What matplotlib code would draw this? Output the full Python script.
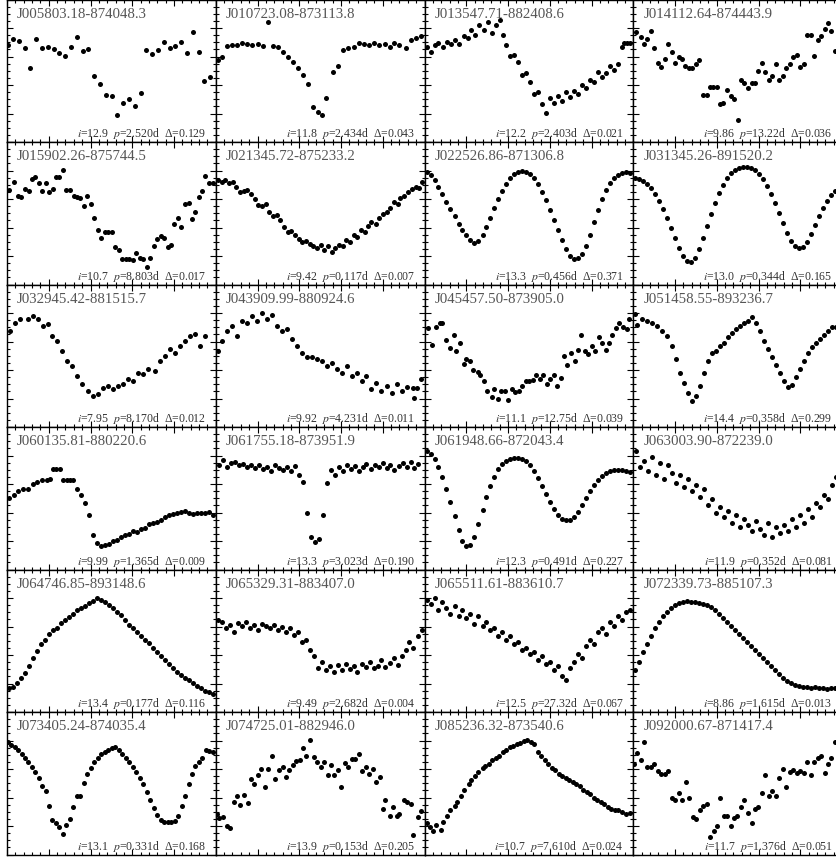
import numpy as np
import matplotlib
matplotlib.use("Agg")
import matplotlib.pyplot as plt
from matplotlib.ticker import MultipleLocator

plt.rcParams["font.family"] = ["Liberation Serif", "DejaVu Serif"]
plt.rcParams["mathtext.fontset"] = "stix"

# star ids, mean i mag, period (d) and amplitude, row by row
names = ["J005803.18-874048.3", "J010723.08-873113.8", "J013547.71-882408.6", "J014112.64-874443.9",
         "J015902.26-875744.5", "J021345.72-875233.2", "J022526.86-871306.8", "J031345.26-891520.2",
         "J032945.42-881515.7", "J043909.99-880924.6", "J045457.50-873905.0", "J051458.55-893236.7",
         "J060135.81-880220.6", "J061755.18-873951.9", "J061948.66-872043.4", "J063003.90-872239.0",
         "J064746.85-893148.6", "J065329.31-883407.0", "J065511.61-883610.7", "J072339.73-885107.3",
         "J073405.24-874035.4", "J074725.01-882946.0", "J085236.32-873540.6", "J092000.67-871417.4"]
imag = ["12.9", "11.8", "12.2", "9.86", "10.7", "9.42", "13.3", "13.0", "7.95", "9.92", "11.1", "14.4",
        "9.99", "13.3", "12.3", "11.9", "13.4", "9.49", "12.5", "8.86", "13.1", "13.9", "10.7", "11.7"]
period = ["2.520", "2.434", "2.403", "13.22", "8.803", "0.117", "0.456", "0.344", "8.170", "4.231", "12.75", "0.358",
          "1.365", "3.023", "0.491", "0.352", "0.177", "2.682", "27.32", "1.615", "0.331", "0.153", "7.610", "1.376"]
delta = ["0.129", "0.043", "0.021", "0.036", "0.017", "0.007", "0.371", "0.165", "0.012", "0.011", "0.039", "0.299",
         "0.009", "0.190", "0.227", "0.081", "0.116", "0.004", "0.067", "0.013", "0.168", "0.205", "0.024", "0.051"]

# phase-folded light curves (phase, normalised magnitude; larger = fainter)
ph_00 = [.005,.029,.057,.086,.110,.139,.167,.196,.225,.249,.278,.306,.335,.364,.388,.416,.445,.474,.502,.526,.555,.584,.612,.641,.665,.694,.722,.751,.780,.804,.833,.861,.890,.919,.943,.971]
mg_00 = [.317,.275,.289,.338,.479,.275,.338,.331,.345,.373,.394,.331,.261,.359,.345,.535,.592,.669,.676,.810,.725,.697,.746,.655,.352,.380,.352,.296,.338,.324,.296,.373,.225,.366,.570,.542]

ph_01 = [.010,.029,.053,.077,.100,.124,.148,.172,.201,.225,.249,.273,.297,.321,.344,.368,.392,.416,.440,.464,.488,.507,.526,.560,.584,.608,.632,.660,.684,.708,.732,.756,.780,.809,.833,.856,.880,.909,.933,.957,.981]
mg_01 = [.423,.401,.324,.317,.317,.303,.310,.317,.310,.324,.155,.324,.331,.366,.401,.437,.479,.528,.592,.754,.789,.810,.690,.507,.465,.352,.338,.331,.303,.310,.317,.303,.317,.310,.331,.303,.317,.338,.282,.268,.254]

ph_02 = [.010,.029,.048,.067,.091,.110,.129,.148,.167,.187,.206,.225,.244,.263,.287,.306,.325,.344,.364,.378,.392,.411,.431,.450,.469,.488,.507,.526,.545,.565,.584,.603,.622,.641,.660,.679,.699,.718,.737,.756,.775,.794,.813,.833,.852,.871,.890,.909,.928,.947,.957,.971,.986]
mg_02 = [.331,.366,.317,.303,.331,.296,.310,.282,.310,.254,.268,.211,.246,.176,.211,.155,.232,.176,.141,.246,.317,.394,.387,.437,.528,.514,.577,.662,.648,.732,.796,.690,.725,.676,.711,.648,.683,.641,.662,.599,.620,.563,.577,.507,.542,.514,.465,.493,.451,.331,.303,.303,.303]

ph_03 = [.014,.038,.053,.067,.086,.100,.120,.134,.153,.167,.187,.201,.220,.234,.249,.268,.282,.301,.316,.335,.354,.368,.383,.402,.416,.431,.450,.469,.483,.502,.517,.531,.550,.569,.584,.598,.617,.632,.651,.665,.684,.699,.718,.732,.751,.766,.785,.799,.818,.833,.852,.866,.885,.900,.919,.933,.947,.967]
mg_03 = [.225,.261,.310,.275,.218,.338,.444,.472,.415,.310,.366,.444,.401,.415,.465,.479,.479,.451,.423,.669,.669,.613,.613,.613,.732,.725,.634,.676,.697,.845,.563,.585,.620,.585,.585,.500,.444,.507,.563,.535,.451,.563,.535,.479,.451,.401,.387,.472,.451,.246,.246,.394,.282,.254,.204,.162,.218,.359]

ph_10 = [.010,.033,.053,.067,.086,.105,.120,.134,.153,.167,.187,.201,.220,.234,.249,.268,.282,.301,.321,.335,.349,.368,.383,.402,.416,.435,.450,.469,.483,.502,.517,.536,.550,.569,.584,.603,.617,.636,.651,.670,.684,.703,.718,.737,.751,.770,.785,.799,.818,.833,.852,.871,.885,.900,.919,.933,.947,.967,.986]
mg_10 = [.338,.282,.380,.387,.331,.345,.261,.246,.289,.345,.289,.352,.331,.246,.246,.197,.338,.338,.380,.387,.394,.451,.380,.437,.535,.620,.676,.634,.634,.634,.739,.761,.824,.824,.824,.831,.782,.817,.824,.880,.817,.732,.683,.662,.676,.739,.725,.577,.535,.599,.437,.430,.542,.493,.387,.345,.239,.289,.289]

ph_11 = [.010,.029,.043,.062,.081,.096,.115,.134,.148,.167,.187,.201,.220,.239,.254,.273,.292,.306,.325,.344,.359,.378,.397,.411,.431,.450,.464,.483,.502,.517,.536,.555,.569,.589,.608,.622,.641,.660,.675,.694,.713,.727,.746,.766,.780,.799,.818,.833,.852,.871,.885,.904,.923,.938,.957,.976,.990]
mg_11 = [.268,.282,.268,.289,.282,.317,.352,.345,.338,.366,.401,.444,.451,.437,.493,.521,.514,.549,.599,.634,.627,.655,.683,.704,.697,.718,.732,.746,.725,.761,.732,.775,.746,.725,.732,.690,.704,.655,.669,.620,.634,.592,.563,.577,.535,.507,.493,.465,.423,.437,.394,.380,.352,.331,.317,.324,.282]

ph_12 = [.010,.029,.048,.067,.086,.105,.124,.144,.163,.182,.201,.220,.239,.258,.278,.297,.316,.335,.354,.373,.392,.411,.431,.450,.469,.488,.507,.526,.545,.565,.584,.603,.622,.641,.660,.679,.699,.718,.737,.756,.775,.794,.813,.833,.852,.871,.890,.909,.928,.947,.967,.986]
mg_12 = [.211,.232,.268,.317,.366,.423,.472,.521,.577,.620,.655,.690,.711,.697,.655,.599,.535,.465,.401,.345,.296,.254,.225,.211,.204,.211,.225,.254,.296,.352,.408,.479,.549,.620,.690,.754,.803,.824,.817,.789,.732,.655,.563,.479,.401,.338,.289,.254,.232,.218,.211,.218]

ph_13 = [.010,.029,.048,.067,.086,.105,.124,.144,.163,.182,.201,.220,.239,.258,.278,.297,.316,.335,.354,.373,.392,.411,.431,.450,.469,.488,.507,.526,.545,.565,.584,.603,.622,.641,.660,.679,.699,.718,.737,.756,.775,.794,.813,.833,.852,.871,.890,.909,.928,.947,.967,.986]
mg_13 = [.254,.261,.275,.296,.324,.366,.415,.472,.535,.606,.676,.746,.803,.838,.845,.817,.754,.676,.592,.507,.430,.359,.303,.254,.218,.197,.183,.176,.176,.183,.197,.225,.261,.310,.366,.430,.500,.570,.641,.697,.732,.746,.739,.704,.648,.585,.521,.465,.415,.373,.345,.324]

ph_20 = [.014,.038,.062,.100,.124,.148,.172,.196,.215,.239,.263,.287,.311,.335,.359,.388,.411,.435,.459,.483,.507,.531,.555,.579,.603,.627,.651,.675,.708,.732,.756,.780,.804,.828,.852,.876,.900,.923,.947]
mg_20 = [.324,.268,.239,.239,.218,.239,.289,.275,.359,.394,.465,.535,.570,.641,.697,.746,.782,.768,.725,.711,.732,.711,.697,.662,.676,.620,.627,.592,.606,.535,.500,.451,.479,.430,.394,.359,.345,.430,.359]

ph_21 = [.010,.029,.053,.077,.100,.124,.148,.172,.196,.220,.244,.268,.292,.316,.340,.364,.388,.411,.435,.459,.483,.507,.531,.555,.579,.603,.627,.651,.675,.699,.722,.746,.770,.794,.818,.842,.866,.890,.914,.943,.952,.962,.981]
mg_21 = [.465,.394,.324,.289,.359,.254,.268,.218,.254,.197,.239,.211,.289,.324,.310,.380,.430,.479,.507,.507,.521,.535,.570,.549,.592,.620,.570,.641,.620,.676,.641,.732,.690,.746,.711,.761,.697,.746,.718,.725,.796,.725,.662]

ph_22 = [.019,.038,.053,.072,.086,.105,.120,.139,.153,.172,.187,.201,.220,.234,.254,.268,.287,.301,.321,.335,.354,.368,.388,.402,.421,.435,.455,.469,.488,.502,.522,.536,.555,.569,.589,.603,.622,.636,.656,.670,.684,.703,.722,.737,.751,.770,.785,.804,.818,.837,.852,.871,.885,.900,.919,.933,.952,.971,.981]
mg_22 = [.303,.423,.296,.268,.268,.387,.444,.352,.465,.408,.556,.521,.535,.599,.613,.634,.676,.746,.789,.732,.803,.746,.746,.810,.732,.754,.746,.711,.676,.676,.669,.634,.662,.634,.697,.662,.634,.711,.655,.500,.563,.479,.535,.458,.352,.465,.486,.430,.465,.366,.408,.458,.408,.352,.303,.268,.296,.310,.239]

ph_23 = [.010,.019,.043,.067,.091,.115,.139,.163,.187,.206,.225,.244,.263,.282,.301,.321,.340,.359,.378,.397,.416,.435,.455,.474,.493,.512,.531,.550,.569,.589,.608,.627,.646,.665,.684,.703,.722,.742,.761,.780,.799,.818,.837,.856,.876,.895,.914,.933,.952,.971]
mg_23 = [.204,.282,.239,.254,.268,.289,.324,.359,.430,.521,.620,.690,.761,.817,.782,.711,.620,.535,.479,.465,.430,.408,.366,.338,.310,.289,.268,.254,.225,.268,.324,.394,.451,.507,.563,.620,.676,.718,.704,.648,.592,.535,.479,.437,.408,.380,.352,.324,.296,.296]

ph_30 = [.010,.033,.053,.077,.100,.124,.144,.167,.191,.206,.220,.234,.254,.268,.287,.301,.316,.335,.354,.373,.392,.411,.431,.450,.469,.488,.507,.526,.545,.565,.584,.603,.622,.641,.660,.679,.699,.718,.737,.756,.775,.794,.813,.833,.852,.871,.890,.909,.928,.947,.967,.986]
mg_30 = [.500,.479,.451,.437,.437,.401,.387,.373,.373,.366,.296,.296,.296,.373,.373,.373,.373,.437,.479,.535,.620,.761,.817,.838,.831,.824,.803,.796,.775,.761,.754,.732,.739,.718,.711,.683,.676,.669,.655,.634,.620,.613,.606,.599,.592,.606,.613,.606,.606,.606,.599,.620]

ph_31 = [.014,.033,.053,.072,.091,.110,.129,.148,.167,.187,.206,.225,.244,.263,.282,.301,.321,.340,.359,.378,.397,.416,.435,.455,.474,.493,.512,.531,.550,.569,.589,.608,.627,.646,.665,.684,.703,.722,.742,.761,.780,.799,.818,.837,.856,.876,.895,.914,.933,.952,.971]
mg_31 = [.268,.232,.282,.254,.246,.268,.261,.282,.268,.289,.268,.296,.282,.310,.268,.289,.303,.282,.310,.275,.338,.387,.606,.775,.810,.789,.620,.394,.303,.338,.282,.310,.268,.296,.275,.310,.282,.261,.296,.268,.282,.254,.289,.268,.303,.275,.254,.282,.246,.289,.261]

ph_32 = [.010,.029,.048,.067,.086,.105,.124,.144,.163,.182,.201,.220,.239,.258,.278,.297,.316,.335,.354,.373,.392,.411,.431,.450,.469,.488,.507,.526,.545,.565,.584,.603,.622,.641,.660,.679,.699,.718,.737,.756,.775,.794,.813,.833,.852,.871,.890,.909,.928,.947,.967,.986]
mg_32 = [.169,.190,.225,.282,.352,.437,.528,.627,.725,.803,.838,.831,.775,.683,.585,.493,.415,.352,.296,.261,.239,.225,.218,.218,.225,.239,.268,.310,.359,.415,.472,.528,.577,.620,.648,.655,.655,.634,.599,.549,.500,.451,.408,.373,.345,.324,.310,.303,.303,.303,.310,.317]

ph_33 = [.014,.033,.053,.072,.091,.110,.129,.148,.167,.187,.206,.225,.244,.263,.282,.301,.321,.340,.359,.378,.397,.416,.435,.455,.474,.493,.512,.531,.550,.569,.589,.608,.627,.646,.665,.684,.703,.722,.742,.761,.780,.799,.818,.837,.856,.876,.895,.914,.933,.952,.971]
mg_33 = [.169,.282,.239,.310,.211,.338,.254,.366,.268,.324,.394,.338,.423,.366,.451,.408,.493,.437,.549,.507,.606,.563,.634,.592,.676,.620,.704,.648,.690,.732,.662,.718,.761,.676,.775,.704,.746,.690,.732,.648,.704,.620,.676,.577,.634,.535,.563,.479,.507,.408,.352]

ph_40 = [.010,.029,.048,.067,.086,.105,.124,.144,.163,.182,.201,.220,.239,.258,.278,.297,.316,.335,.354,.373,.392,.411,.431,.450,.469,.488,.507,.526,.545,.565,.584,.603,.622,.641,.660,.679,.699,.718,.737,.756,.775,.794,.813,.833,.852,.871,.890,.909,.928,.947,.967,.986]
mg_40 = [.831,.824,.796,.761,.725,.676,.620,.570,.521,.493,.451,.423,.408,.373,.352,.331,.310,.282,.268,.254,.232,.218,.197,.211,.225,.246,.268,.296,.317,.352,.387,.408,.437,.465,.493,.514,.549,.577,.606,.634,.662,.690,.718,.739,.761,.775,.796,.817,.831,.852,.859,.873]

ph_41 = [.010,.029,.048,.067,.086,.105,.124,.144,.163,.182,.201,.220,.239,.258,.278,.297,.316,.335,.354,.373,.392,.411,.431,.450,.469,.488,.507,.526,.545,.565,.584,.603,.622,.641,.660,.679,.699,.718,.737,.756,.775,.794,.813,.833,.852,.871,.890,.909,.928,.947,.967,.986]
mg_41 = [.352,.366,.408,.387,.437,.373,.394,.366,.408,.387,.423,.380,.394,.408,.387,.423,.401,.437,.408,.458,.437,.507,.493,.563,.606,.690,.648,.704,.676,.718,.669,.704,.662,.697,.676,.718,.662,.683,.648,.690,.676,.634,.683,.655,.620,.669,.606,.563,.507,.549,.465,.423]

ph_42 = [.010,.029,.048,.067,.086,.105,.124,.144,.163,.182,.201,.220,.239,.258,.278,.297,.316,.335,.354,.373,.392,.411,.431,.450,.469,.488,.507,.526,.545,.565,.584,.603,.622,.641,.660,.679,.699,.718,.737,.756,.775,.794,.813,.833,.852,.871,.890,.909,.928,.947,.967,.986]
mg_42 = [.211,.239,.197,.282,.225,.268,.310,.254,.324,.282,.338,.310,.380,.324,.394,.366,.423,.408,.465,.437,.493,.465,.521,.507,.563,.549,.592,.577,.634,.606,.662,.648,.704,.676,.746,.775,.690,.648,.592,.620,.535,.493,.521,.437,.408,.451,.366,.394,.324,.352,.296,.282]

ph_43 = [.010,.029,.048,.067,.086,.105,.124,.144,.163,.182,.201,.220,.239,.258,.278,.297,.316,.335,.354,.373,.392,.411,.431,.450,.469,.488,.507,.526,.545,.565,.584,.603,.622,.641,.660,.679,.699,.718,.737,.756,.775,.794,.813,.833,.852,.871,.890,.909,.928,.947,.967]
mg_43 = [.704,.648,.577,.521,.465,.408,.366,.324,.296,.268,.246,.232,.225,.218,.225,.225,.232,.239,.246,.261,.282,.310,.338,.366,.394,.423,.451,.479,.507,.535,.563,.592,.620,.648,.676,.704,.732,.761,.782,.796,.810,.817,.824,.824,.831,.824,.831,.831,.838,.831,.831]

ph_50 = [.005,.019,.038,.053,.072,.086,.100,.120,.134,.153,.167,.187,.201,.215,.234,.249,.268,.282,.301,.316,.335,.349,.368,.383,.402,.416,.435,.450,.469,.483,.502,.517,.536,.550,.569,.584,.603,.617,.636,.651,.670,.684,.703,.718,.737,.751,.770,.785,.804,.818,.837,.852,.871,.885,.900,.919,.933,.952,.967,.986]
mg_50 = [.211,.232,.246,.268,.296,.324,.352,.387,.423,.465,.521,.556,.662,.761,.782,.810,.859,.796,.754,.669,.592,.592,.500,.437,.394,.352,.324,.296,.282,.268,.254,.246,.268,.296,.324,.352,.387,.423,.465,.507,.563,.620,.676,.725,.761,.775,.775,.775,.768,.732,.662,.592,.507,.437,.380,.352,.324,.268,.275,.282]

ph_51 = [.005,.014,.033,.053,.067,.086,.100,.115,.134,.153,.167,.182,.201,.215,.234,.249,.268,.282,.301,.321,.335,.349,.368,.383,.402,.416,.431,.450,.469,.483,.502,.517,.536,.550,.565,.584,.598,.617,.632,.651,.665,.684,.699,.718,.732,.751,.766,.785,.799,.813,.833,.847,.866,.880,.900,.914,.933,.947,.967,.981]
mg_51 = [.718,.746,.739,.803,.817,.634,.592,.655,.585,.641,.472,.507,.444,.401,.528,.401,.310,.472,.408,.387,.458,.408,.373,.345,.338,.254,.310,.197,.317,.352,.387,.352,.444,.373,.444,.408,.528,.359,.387,.331,.331,.296,.415,.387,.437,.401,.493,.458,.683,.620,.732,.669,.732,.718,.620,.634,.648,.866,.739,.697]

ph_52 = [.010,.024,.043,.057,.077,.091,.110,.124,.144,.158,.177,.191,.211,.225,.244,.258,.278,.292,.311,.325,.344,.359,.378,.392,.411,.426,.445,.459,.478,.493,.512,.526,.545,.560,.579,.593,.612,.627,.646,.660,.679,.694,.713,.727,.746,.761,.780,.794,.813,.828,.847,.861,.880,.895,.914,.928,.947,.967,.986]
mg_52 = [.782,.810,.838,.796,.831,.775,.732,.690,.662,.634,.592,.549,.507,.479,.451,.423,.394,.380,.366,.338,.324,.310,.282,.268,.246,.239,.225,.218,.204,.197,.211,.225,.282,.310,.338,.366,.394,.408,.437,.451,.465,.479,.493,.507,.521,.549,.563,.577,.606,.620,.634,.648,.669,.683,.690,.690,.704,.718,.711]

ph_53 = [.005,.019,.038,.053,.067,.086,.100,.120,.134,.153,.167,.187,.201,.220,.234,.254,.268,.287,.301,.321,.335,.354,.368,.388,.402,.416,.435,.450,.469,.483,.498,.517,.531,.550,.569,.584,.598,.617,.632,.651,.665,.684,.699,.718,.732,.751,.766,.785,.799,.818,.833,.852,.866,.885,.900,.919,.933,.947,.967]
mg_53 = [.366,.289,.338,.211,.387,.387,.366,.415,.437,.437,.415,.606,.620,.570,.620,.493,.606,.739,.754,.690,.662,.648,.880,.838,.803,.606,.732,.732,.803,.746,.732,.669,.620,.711,.782,.683,.669,.570,.444,.592,.556,.592,.465,.401,.528,.423,.408,.430,.415,.430,.352,.444,.352,.324,.310,.430,.366,.324,.211]

curves = [(ph_00, mg_00), (ph_01, mg_01), (ph_02, mg_02), (ph_03, mg_03),
          (ph_10, mg_10), (ph_11, mg_11), (ph_12, mg_12), (ph_13, mg_13),
          (ph_20, mg_20), (ph_21, mg_21), (ph_22, mg_22), (ph_23, mg_23),
          (ph_30, mg_30), (ph_31, mg_31), (ph_32, mg_32), (ph_33, mg_33),
          (ph_40, mg_40), (ph_41, mg_41), (ph_42, mg_42), (ph_43, mg_43),
          (ph_50, mg_50), (ph_51, mg_51), (ph_52, mg_52), (ph_53, mg_53)]

W, H = 836, 859
fig = plt.figure(figsize=(W / 100, H / 100), dpi=100)
pw, phh = 208.75, 142.5

for k, (x, y) in enumerate(curves):
    r, c = divmod(k, 4)
    left = 7 + pw * c
    top = -0.5 + phh * r
    ax = fig.add_axes([left / W, 1 - (top + phh) / H, pw / W, phh / H])
    ax.plot(x, y, "o", color="k", ms=3.6, mec="none")
    ax.set_xlim(0, 1)
    ax.set_ylim(1, 0)
    ax.xaxis.set_major_locator(MultipleLocator(0.2))
    ax.xaxis.set_minor_locator(MultipleLocator(0.04))
    ax.yaxis.set_major_locator(MultipleLocator(0.2))
    ax.yaxis.set_minor_locator(MultipleLocator(0.05))
    ax.tick_params(which="both", direction="in", top=True, right=True,
                   labelbottom=False, labelleft=False, width=0.8, color="k")
    ax.tick_params(which="major", length=4.5)
    ax.tick_params(which="minor", length=2.2)
    for s in ax.spines.values():
        s.set_linewidth(1.0)
    ax.text(0.048, 0.873, names[k], transform=ax.transAxes, fontsize=10.7,
            color="#555555", ha="left", va="baseline")
    ax.text(0.955, 0.035, "$i$=%s  $p$=%sd  \u0394=%s" % (imag[k], period[k], delta[k]),
            transform=ax.transAxes, fontsize=8.5, color="#333333", ha="right", va="baseline")

fig.savefig("out.png", dpi=100)
